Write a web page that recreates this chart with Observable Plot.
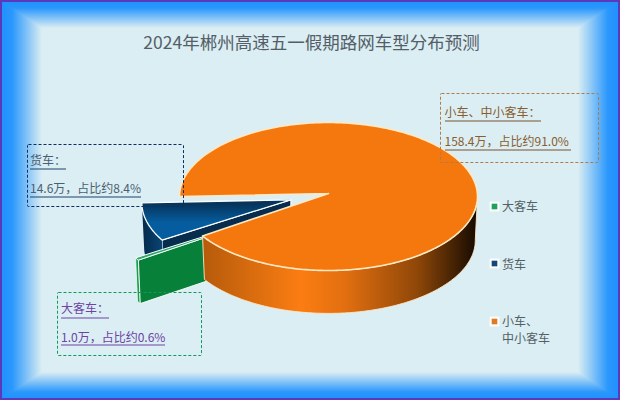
<!DOCTYPE html>
<html lang="zh-CN">
<head>
<meta charset="utf-8">
<script src="https://cdn.jsdelivr.net/npm/d3@7"></script>
<script src="https://cdn.jsdelivr.net/npm/@observablehq/plot@0.6"></script>
<style>
html,body{margin:0;padding:0;background:#fff}
#card{position:relative;width:620px;height:400px;overflow:hidden;background:#daeef3;font-family:"Noto Sans CJK SC","Noto Sans",sans-serif}
.side{position:absolute;left:0;top:0;width:620px;height:400px}
#t{height:28px;background:linear-gradient(to bottom,#1e90ff 0,#2a97fc 8px,#daeef3 28px)}
#b{top:372px;height:28px;background:linear-gradient(to top,#1e90ff 0,#2a97fc 8px,#daeef3 28px)}
#l{background:linear-gradient(to right,#1e90ff 0,#2a97fc 12px,#daeef3 42px);clip-path:polygon(0 0,42px 28px,42px 372px,0 400px)}
#r{background:linear-gradient(to left,#1e90ff 0,#2a97fc 12px,#daeef3 42px);clip-path:polygon(620px 0,578px 28px,578px 372px,620px 400px)}
#border{position:absolute;left:0;top:0;width:620px;height:400px;box-sizing:border-box;border:2px solid #5b39b8}
#plot{position:absolute;left:0;top:0}
#plot svg{display:block;background:transparent}
</style>
</head>
<body>
<svg width="0" height="0" style="position:absolute">
  <defs>
    <linearGradient id="gOrangeSide" gradientUnits="userSpaceOnUse" x1="200" y1="0" x2="478" y2="0">
      <stop offset="0" stop-color="#b45a0b"/>
      <stop offset="0.36" stop-color="#fb7d12"/>
      <stop offset="0.52" stop-color="#e26f10"/>
      <stop offset="0.78" stop-color="#8f4708"/>
      <stop offset="0.93" stop-color="#3a1d03"/>
      <stop offset="1" stop-color="#120800"/>
    </linearGradient>
    <linearGradient id="gFreightTop" gradientUnits="userSpaceOnUse" x1="0" y1="203" x2="0" y2="222">
      <stop offset="0" stop-color="#06345a"/>
      <stop offset="1" stop-color="#055c9e"/>
    </linearGradient>
    <linearGradient id="gFreightWall" gradientUnits="userSpaceOnUse" x1="142" y1="0" x2="165" y2="0">
      <stop offset="0" stop-color="#04294a"/>
      <stop offset="1" stop-color="#0a4a7c"/>
    </linearGradient>
  </defs>
</svg>
<div id="card">
  <div class="side" id="t"></div><div class="side" id="b"></div>
  <div class="side" id="l"></div><div class="side" id="r"></div>
  <div id="plot"></div>
  <div id="border"></div>
</div>
<script>
// ---- data ----
const title = "2024年郴州高速五一假期路网车型分布预测";
const categories = ["小车、中小客车", "大客车", "货车"];
const values = [158.4, 1.0, 14.6];
const shares = [91.0, 0.6, 8.4];
const legendLabels = ["大客车", "货车", "小车、\n中小客车"];

// ---- layout and style ----
const cx = 328, cy = 196, rx = 149, ry = 74, depth = 44, shrink = 0.985, apexLift = 3;
const startDeg = 180, squash = 0.62;
const explode = {"小车、中小客车": 0, "大客车": 75, "货车": 39};
const rad = d => d * Math.PI / 180;
const total = d3.sum(values);

let acc = startDeg;
const slices = categories.map((name, i) => {
  const a0 = acc, a1 = acc + values[i] / total * 360;
  acc = a1;
  const mid = rad((a0 + a1) / 2), e = explode[name];
  return {name, a0, a1, dx: e * Math.cos(mid), dy: e * Math.sin(mid) * squash};
});
const [small, bus, freight] = slices;

const topPt = (s, d) => ({x: cx + s.dx + rx * Math.cos(rad(d)), y: cy + s.dy + ry * Math.sin(rad(d))});
const botPt = (s, d) => ({x: cx + s.dx + rx * shrink * Math.cos(rad(d)), y: cy + s.dy + depth + ry * shrink * Math.sin(rad(d))});
const apexTop = s => ({x: cx + s.dx, y: cy + s.dy - apexLift});
const apexBot = s => ({x: cx + s.dx, y: cy + s.dy - apexLift + depth});
const arc = (f, s, a0, a1) => {
  const n = Math.max(2, Math.ceil(Math.abs(a1 - a0)));
  return d3.range(n + 1).map(i => f(s, a0 + (a1 - a0) * i / n));
};
const poly = (pts, fill, stroke, strokeWidth) =>
  Plot.line([...pts, pts[0]], {x: "x", y: "y", fill, stroke, strokeWidth, strokeLinejoin: "round"});

const topFace = s => [apexTop(s), ...arc(topPt, s, s.a0, s.a1)];
const outerWall = (s, a0, a1) => [...arc(topPt, s, a0, a1), ...arc(botPt, s, a1, a0)];
const cutWall = (s, a) => [apexTop(s), topPt(s, a), botPt(s, a), apexBot(s)];

const orangeEnd = small.a1 - 360; // front-facing part of the big slice's rim

const boxes = [
  {x1: 440.5, x2: 598.5, y1: 93.5, y2: 162.5, stroke: "#b07a4a"},
  {x1: 27.5, x2: 183.5, y1: 144.5, y2: 206.5, stroke: "#0c2f5e"},
  {x1: 57.5, x2: 201.5, y1: 292.5, y2: 355.5, stroke: "#129a58"}
];
const labels = [
  {t: categories[0] + "：", x: 444, y: 112.5, c: "#8a5c2e"},
  {t: `${values[0].toFixed(1)}万，占比约${shares[0].toFixed(1)}%`, x: 444, y: 142, c: "#8a5c2e"},
  {t: categories[2] + "：", x: 29.5, y: 161, c: "#4a5f72"},
  {t: `${values[2].toFixed(1)}万，占比约${shares[2].toFixed(1)}%`, x: 29.5, y: 189, c: "#4a5f72"},
  {t: categories[1] + "：", x: 60.5, y: 309, c: "#6f42a5"},
  {t: `${values[1].toFixed(1)}万，占比约${shares[1].toFixed(1)}%`, x: 60.5, y: 338, c: "#6f42a5"}
];
const underlines = [
  {x1: 445, x2: 541, y: 120.5, c: "#7a5230"},
  {x1: 445, x2: 571, y: 149.5, c: "#7a5230"},
  {x1: 30, x2: 66, y: 168.5, c: "#1d4468"},
  {x1: 30, x2: 141, y: 196.5, c: "#1d4468"},
  {x1: 61, x2: 109, y: 317.5, c: "#6f42a5"},
  {x1: 61, x2: 165, y: 344.5, c: "#6f42a5"}
];
const legendRows = [
  {t: legendLabels[0], y: 206, ty: 205.5, c: "#1ea35c"},
  {t: legendLabels[1], y: 263, ty: 263.5, c: "#0f4a7a"},
  {t: legendLabels[2], y: 321, ty: 328.5, c: "#e07a24"}
];

const plot = Plot.plot({
  width: 620, height: 400, margin: 0,
  style: {background: "transparent", fontFamily: '"Noto Sans CJK SC","Noto Sans",sans-serif'},
  x: {domain: [0, 620], range: [0, 620], axis: null},
  y: {domain: [0, 400], range: [0, 400], axis: null},
  marks: [
    // freight slice
    poly(cutWall(freight, freight.a0), "#062d4e", "#ffffff", 1),
    poly(outerWall(freight, freight.a0, freight.a1), "url(#gFreightWall)", "none", 0),
    poly(topFace(freight), "url(#gFreightTop)", "#ffffff", 1.3),
    // bus slice
    poly(outerWall(bus, bus.a0 - 360, bus.a1 - 360), "#1f9a55", "#e8fff0", 0.8),
    poly(cutWall(bus, bus.a0 - 360), "#07803a", "#ffffff", 0.9),
    poly(topFace(bus), "#2aa868", "#ffffff", 1),
    // big slice
    poly(outerWall(small, 0, orangeEnd), "url(#gOrangeSide)", "#ffe6c6", 0.9),
    poly(topFace(small), "#f5780f", "#ffe8c4", 1.6),
    // callouts
    Plot.rect(boxes, {x1: "x1", x2: "x2", y1: "y1", y2: "y2", fill: "none", stroke: "stroke", strokeDasharray: "3,2", strokeWidth: 1, rx: 1}),
    Plot.ruleY(underlines, {x1: "x1", x2: "x2", y: "y", stroke: "c", strokeWidth: 1}),
    Plot.text(labels, {x: "x", y: "y", text: "t", fill: "c", textAnchor: "start", fontSize: 12}),
    // legend
    Plot.dot(legendRows, {x: () => 494, y: "y", symbol: "square", r: 5.5, fill: "#ffffff"}),
    Plot.dot(legendRows, {x: () => 494, y: "y", symbol: "square", r: 3.2, fill: "c"}),
    Plot.text(legendRows, {x: () => 501.5, y: "ty", text: "t", fill: "#555f66", textAnchor: "start", fontSize: 12, lineHeight: 1.42}),
    // title
    Plot.text([title], {x: () => 311, y: () => 43, text: d => d, fill: "#555e68", fontSize: 17.5, textAnchor: "middle"})
  ]
});
document.getElementById("plot").append(plot);
</script>
</body>
</html>
